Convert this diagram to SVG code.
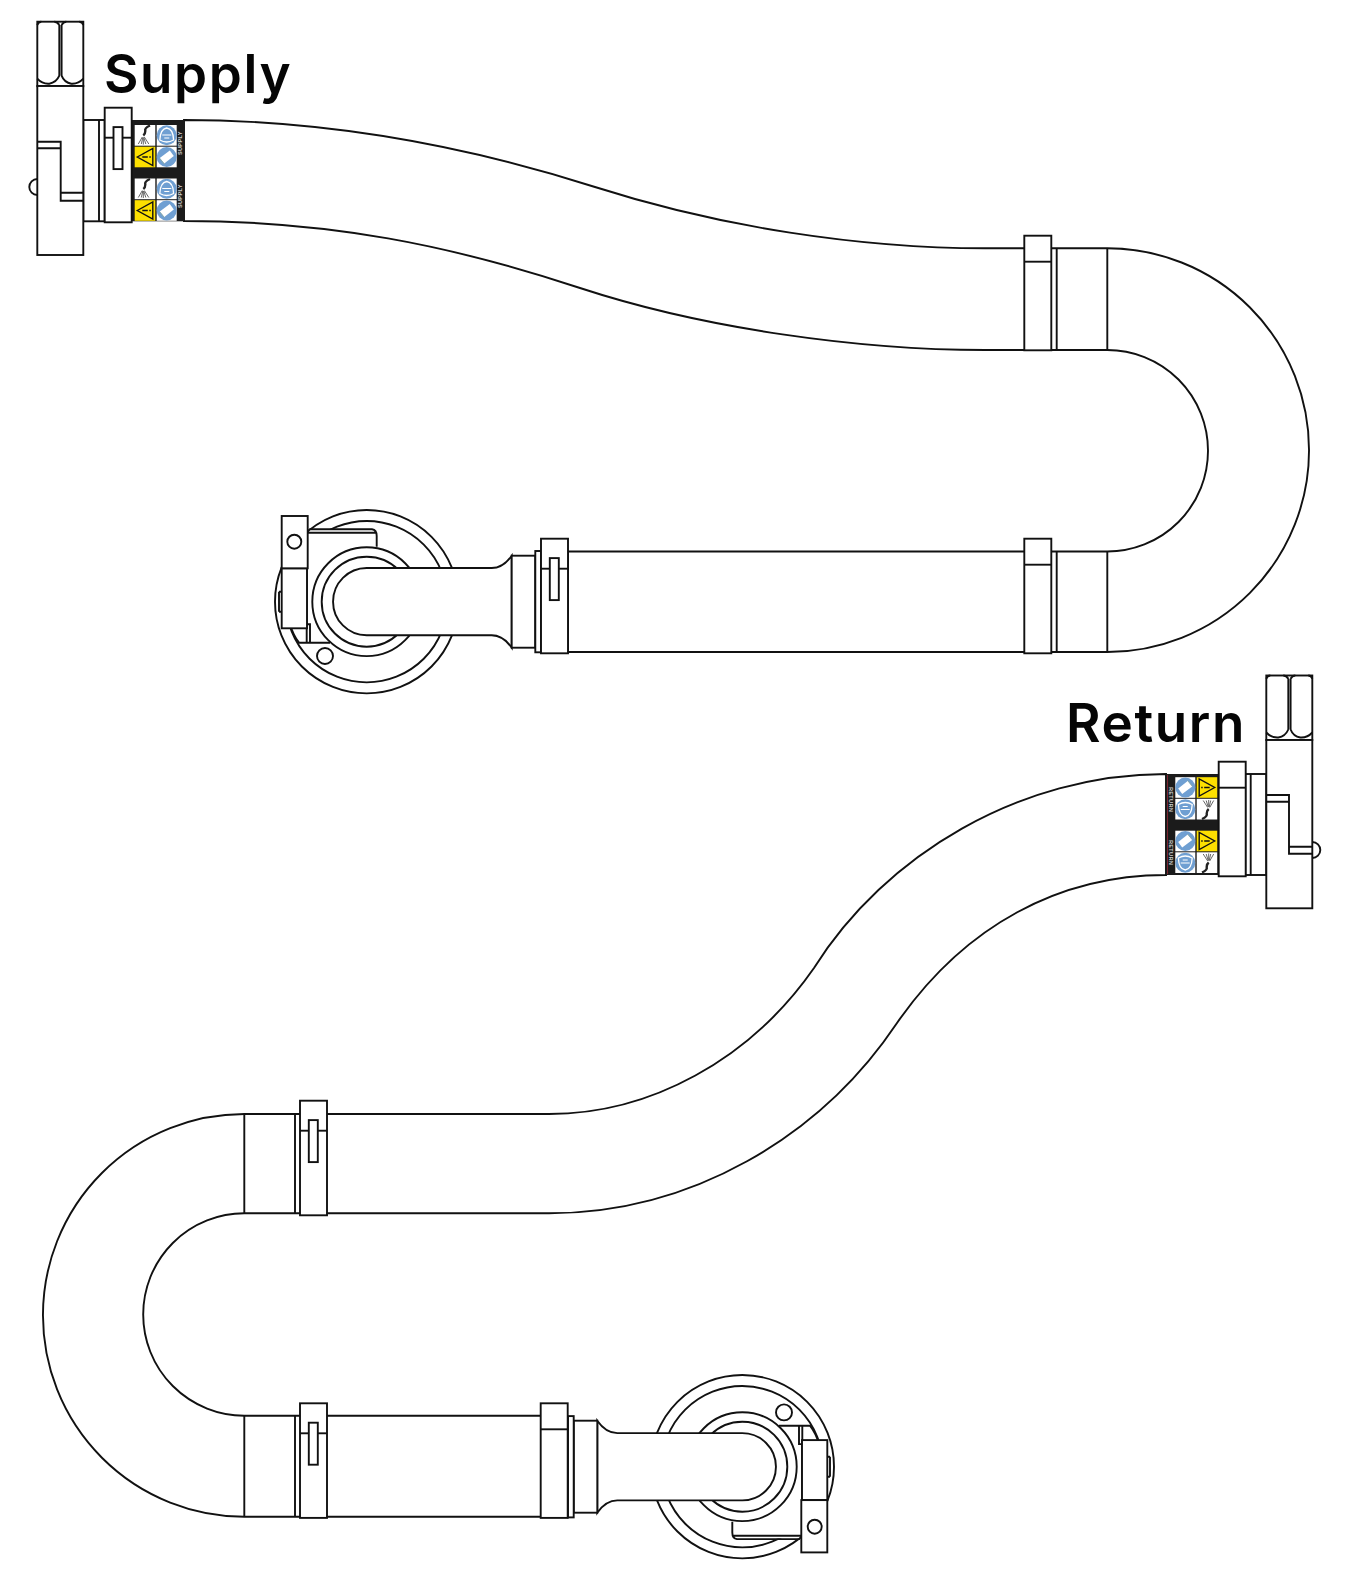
<svg xmlns="http://www.w3.org/2000/svg" xmlns:xlink="http://www.w3.org/1999/xlink" width="1350" height="1580" viewBox="0 0 1350 1580">
<style>
.l{fill:#fff;stroke:#111;stroke-width:1.9;stroke-linejoin:miter}
.n{fill:none;stroke:#111;stroke-width:1.9}
.t{font-family:"Inter","Liberation Sans",sans-serif;font-size:53px;font-weight:600;fill:#050505;letter-spacing:1.6px}
.s{font-family:"Liberation Sans",Arial,sans-serif;font-size:5.6px;font-weight:700;fill:#ccc;letter-spacing:.3px}
.w{fill:#fff}.y{fill:#fde000}.b{fill:#6f9fd2}
.h{fill:none;stroke:#222;stroke-width:2.4}
.f{fill:none;stroke:#555;stroke-width:.9}
</style>
<defs>
<g id="nut">
<rect class="l" x="0" y="0" width="46" height="64.5"/>
<path class="n" d="M0 57Q5 62.5 12 62Q19 61 22 54M24.3 54Q27 61 34 62Q41 62.5 46 57M22 3.3V54M24.3 3.3V54M22 3.3Q20 0 17 0M24.3 3.3Q26 0 29 0M0 3.3Q1 0 4 0M46 3.3Q45 0 42 0"/>
</g>
<g id="clamp"><rect class="l" x="0" y="0" width="27" height="114.6"/><path class="n" d="M0 26H27"/></g>
<g id="clampS"><rect class="l" x="0" y="0" width="27" height="114.6"/><path class="n" d="M0 30H27"/><rect class="l" x="8.8" y="19.4" width="9" height="42"/></g>
<g id="tiles">
<rect class="w" x="3.4" y="5" width="20.6" height="20.7"/>
<path class="h" d="M18.7 5.5Q13 8 14 11Q14 14 12 15.5"/>
<path class="f" d="M11 17L7 24M11.5 17.5L10 24M12 17.5V24.5M12.5 17.5L14.5 24M13 17L17.5 24"/>
<rect class="w" x="25.4" y="5" width="20" height="20.7"/>
<circle class="b" cx="35.4" cy="15.3" r="10"/>
<path d="M28.5 20Q29 9 35.4 8Q42 9 42.3 20Q35.4 24 28.5 20Z" fill="none" stroke="#fff" stroke-width="1.3"/>
<path d="M31 15H40M33 18H38" stroke="#fff" stroke-width="1.2" fill="none"/>
<rect class="y" x="3.4" y="26.7" width="20.6" height="20.6"/>
<path d="M6 37L21.5 28.5V45.5Z" fill="none" stroke="#111" stroke-width="1.4"/>
<path d="M11 37H16.5M18 37H19.5" stroke="#111" stroke-width="1.5"/>
<rect class="w" x="25.4" y="26.7" width="20" height="20.6"/>
<circle class="b" cx="35.4" cy="37" r="10"/>
<path class="w" d="M28.5 38L38.5 30.5L42.5 36L33 43.5Z"/>
<path d="M28.5 38.5L33 44" stroke="#8aa" stroke-width="1" fill="none"/>
</g>
<g id="flange">
<circle class="l" cx="366.7" cy="601.7" r="91.7"/>
<path class="n" d="M279 591.7H281.7M279 611.7H281.7M279 591.7V611.7"/>
<circle class="l" cx="366.7" cy="601.7" r="80.7"/>
<circle class="l" cx="325" cy="656" r="8"/>
<path fill="#fff" d="M307 530H376.7V600H330V642.7H299Q293 635 290 624.3H307Z"/>
<path class="n" d="M306.7 532.7H376.7M306.7 532V642.7M326 529.3H372Q376.7 530 376.7 536V546.7M360 529.3H310L306.7 532.7M290 624.3H310V642.7M290 624.3Q293 635 299 642.7H330"/>
<circle class="l" cx="366.7" cy="601.7" r="54.4"/>
<circle class="l" cx="366.7" cy="601.7" r="45"/>
<path class="l" d="M366.7 568H491.7Q503 568 511.7 555.7V647.7Q503 635.3 491.7 635.3H366.7A33.65 33.65 0 0 1 366.7 568Z"/>
<rect class="l" x="511.7" y="555.7" width="23.6" height="92"/>
<rect class="l" x="535.3" y="551" width="5.7" height="101.3"/>
<rect class="l" x="281.7" y="568.3" width="25.3" height="60"/>
<rect class="l" x="281.7" y="516" width="26" height="52.3"/>
<circle class="l" cx="294.3" cy="541.7" r="7"/>
</g>
</defs>

<g id="connectors">
<path id="hose-supply" class="l" d="M184 120C330 120 470 147 595 187C720 227 860 248.3 985 248.3H1107.3A201.6 201.6 0 0 1 1107.3 652H568V551.5H1107.3A100.6 100.6 0 0 0 1107.3 350H985C860 350 705 329 580 288C450 245 330 221 184 221Z"/>
<path id="hose-return" class="l" d="M1166 774C1020 774 885 855 814 968C750 1060 650 1114 549 1114H244.3A201.3 201.3 0 0 0 244.3 1516.7H541V1415.7H244.3A101.2 101.2 0 0 1 244.3 1213.3H549C690 1213.3 820 1138 897 1023C965 925 1060 875 1166 875Z"/>
<path class="n" d="M1107.3 248.3V350M1107.3 551.5V652M1056.7 248.3V350M1056.7 551.5V652M244.3 1113.5V1213.3M244.3 1415.7V1516.7M295 1113.5V1213.3M295 1415.7V1516.7"/>
</g>

<g id="supply-fitting">
<rect class="l" x="83.3" y="120" width="21.4" height="101.3"/>
<path class="n" d="M99 120V221.3"/>
<path class="n" d="M37.3 179A8 8 0 0 0 37.3 195"/>
<use xlink:href="#nut" href="#nut" x="37.3" y="21.7"/>
<rect class="l" x="37.3" y="86" width="46" height="169"/>
<path class="n" d="M37.3 141.7H60.7V200.7H83.3M37.3 148.3H60.7M60.7 192.7H83.3"/>
</g>

<g id="supply-label">
<rect x="131.3" y="120" width="53" height="101.3" fill="#1b1b1b"/>
<use xlink:href="#tiles" href="#tiles" transform="translate(131.3 120)"/>
<use xlink:href="#tiles" href="#tiles" transform="translate(131.3 173.5)"/>
<text class="s" transform="translate(181.5 155) rotate(-90)">SUPPLY</text>
<text class="s" transform="translate(181.5 208) rotate(-90)">SUPPLY</text>
</g>

<g id="supply-clamp"><use xlink:href="#clampS" href="#clampS" x="104.7" y="107.7"/></g>
<g id="clamp-upper-right"><use xlink:href="#clamp" href="#clamp" x="1024.3" y="235.7"/></g>
<g id="clamp-lower-right"><use xlink:href="#clamp" href="#clamp" x="1024.3" y="538.7"/></g>
<g id="supply-flange"><use xlink:href="#flange" href="#flange"/></g>
<g id="clamp-supply-flange"><use xlink:href="#clampS" href="#clampS" x="541" y="538.7"/></g>

<g id="return-fitting">
<rect class="l" x="1245.3" y="774" width="21" height="101"/>
<path class="n" d="M1250.7 774V875"/>
<path class="n" d="M1312.3 842A8 8 0 0 1 1312.3 858"/>
<use xlink:href="#nut" href="#nut" x="1266.3" y="675.5"/>
<rect class="l" x="1266.3" y="740" width="46" height="168.3"/>
<path class="n" d="M1266.3 795H1289V853.7H1312.3M1266.3 801.7H1289M1289 846.7H1312.3"/>
</g>

<g id="return-label">
<rect x="1166" y="774" width="52.7" height="101" fill="#1b1b1b"/>
<path d="M1167.5 775V874" stroke="#7a2530" stroke-width="1" fill="none"/>
<use xlink:href="#tiles" href="#tiles" transform="translate(1220.7 878) rotate(180)"/>
<use xlink:href="#tiles" href="#tiles" transform="translate(1220.7 824.5) rotate(180)"/>
<text class="s" transform="translate(1169 787) rotate(90)">RETURN</text>
<text class="s" transform="translate(1169 840) rotate(90)">RETURN</text>
</g>
<g id="return-clamp"><use xlink:href="#clamp" href="#clamp" x="1218.7" y="761.7"/></g>

<g id="clamp-left-top"><use xlink:href="#clampS" href="#clampS" x="300" y="1100.7"/></g>
<g id="clamp-left-bottom"><use xlink:href="#clampS" href="#clampS" x="300" y="1403.3"/></g>
<g id="return-flange"><use xlink:href="#flange" href="#flange" transform="rotate(180 554.5 1034.2)"/></g>
<g id="clamp-return-flange"><use xlink:href="#clamp" href="#clamp" x="540.7" y="1403.3"/></g>

<text id="label-supply" class="t" x="104" y="93">Supply</text>
<text id="label-return" class="t" x="1066" y="741.5">Return</text>
</svg>
